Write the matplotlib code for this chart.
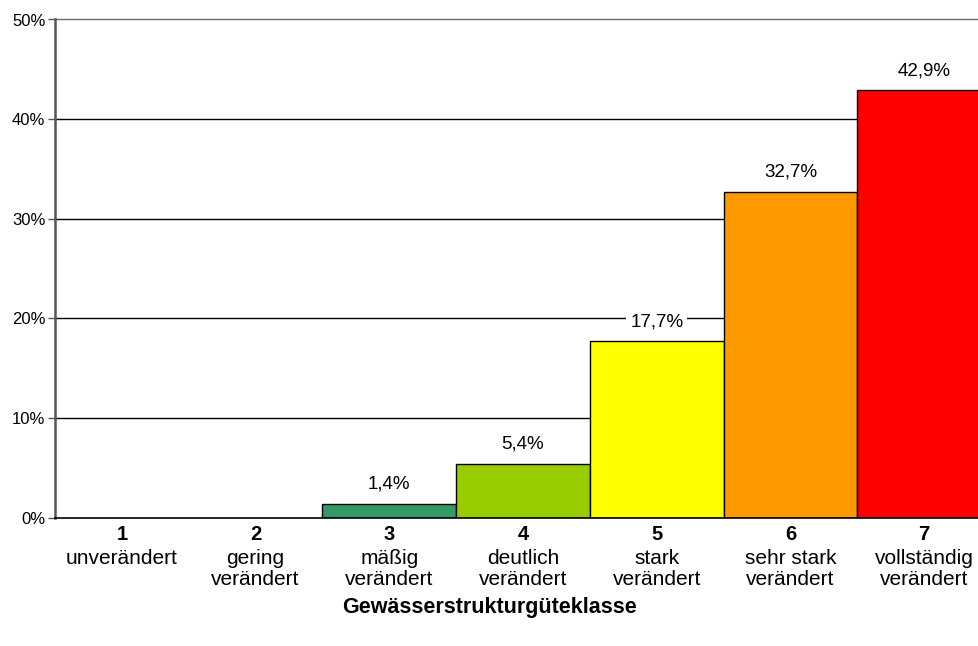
import matplotlib
matplotlib.use("Agg")
import matplotlib.pyplot as plt
import matplotlib.transforms as mtransforms

plt.rcParams['font.family'] = ['Liberation Sans', 'DejaVu Sans']

klassen = ["1", "2", "3", "4", "5", "6", "7"]
beschreibung = ["unverändert", "gering\nverändert", "mäßig\nverändert",
                "deutlich\nverändert", "stark\nverändert", "sehr stark\nverändert",
                "vollständig\nverändert"]
anteile = [0.0, 0.0, 1.4, 5.4, 17.7, 32.7, 42.9]
wert_labels = ["", "", "1,4%", "5,4%", "17,7%", "32,7%", "42,9%"]
farben = ["#FFFFFF", "#FFFFFF", "#339966", "#99CC00", "#FFFF00", "#FF9900", "#FF0000"]
y_ticks = [0, 10, 20, 30, 40, 50]
y_ticklabels = ["0%", "10%", "20%", "30%", "40%", "50%"]

fig = plt.figure(figsize=(9.79, 6.46), dpi=100)
W, H = 979, 646
left_px, right_px, top_px, bottom_px = 55, 991, 19.5, 517.5
ax = fig.add_axes([left_px / W, 1 - bottom_px / H,
                   (right_px - left_px) / W, (bottom_px - top_px) / H])

x = list(range(len(klassen)))
ax.set_xlim(-0.5, len(klassen) - 0.5)
ax.set_ylim(0, 50)

# horizontal gridlines behind the bars
for t in y_ticks[1:]:
    ax.axhline(t, color="#000000" if t < 50 else "#6a6a6a", lw=1.0, zorder=0,
               clip_on=False)

for xi, v, c in zip(x, anteile, farben):
    if v > 0:
        ax.bar(xi, v, width=1.0, color=c, edgecolor="black", linewidth=1.0, zorder=2)

for xi, v, lab in zip(x, anteile, wert_labels):
    if lab:
        ax.annotate(lab, (xi, v), xytext=(0, 8), textcoords="offset points",
                    ha="center", va="bottom", fontsize=13.5, zorder=3,
                    bbox=dict(boxstyle="square,pad=0.2", fc="white", ec="none"))

ax.set_yticks(y_ticks)
ax.set_yticklabels(y_ticklabels, fontsize=12)
ax.tick_params(axis="y", length=5, width=1.0, color="#555555", pad=2)
ax.set_xticks([])

for s in ["top", "right"]:
    ax.spines[s].set_visible(False)
ax.spines["left"].set_color("#555555")
ax.spines["left"].set_linewidth(1.8)
ax.spines["bottom"].set_color("#000000")
ax.spines["bottom"].set_linewidth(1.2)

trans = mtransforms.blended_transform_factory(ax.transData, fig.transFigure)
for xi, k, b in zip(x, klassen, beschreibung):
    ax.text(xi, 1 - 535 / H, k, transform=trans, ha="center", va="center",
            fontsize=14.5, fontweight="bold")
    ax.text(xi, 1 - 549 / H, b, transform=trans, ha="center", va="top",
            fontsize=15, linespacing=1.12)

fig.text(490 / W, 1 - 607 / H, "Gewässerstrukturgüteklasse", ha="center", va="center",
         fontsize=15.5, fontweight="bold")

fig.savefig("out.png", dpi=100)
